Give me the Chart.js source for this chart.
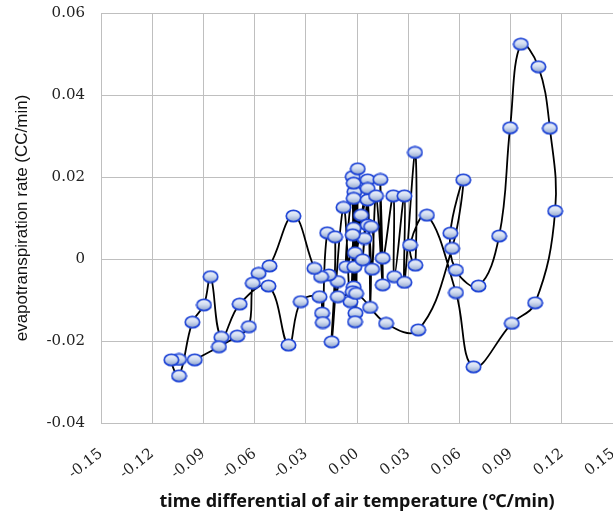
<!DOCTYPE html>
<html>
<head>
<meta charset="utf-8">
<script src="https://cdn.jsdelivr.net/npm/chart.js@4.4.0/dist/chart.umd.min.js"></script>
<style>
html,body{margin:0;padding:0;background:#fff;overflow:hidden;width:613px;height:515px;}
#wrap{position:absolute;left:0;top:0;width:622px;height:515px;}
</style>
</head>
<body>
<div id="wrap"><canvas id="c"></canvas></div>
<script>
// time differential of air temperature (°C/min), in time order
const xValues = [
 -0.1043,-0.1088,-0.1043,-0.0965,-0.0897,-0.0858,-0.0795,-0.0688,-0.0519,-0.0402,
 -0.0330,-0.0220,-0.0205,-0.0201,-0.0175,-0.0129,-0.0149,-0.0080,-0.0039,-0.0016,
 -0.0010,-0.0026,-0.0012,0.0004,-0.0020,-0.0020,-0.0026,-0.0020,-0.0064,0.0023,
 -0.0012,0.0062,-0.0016,0.0062,0.0033,0.0062,0.0076,0.0062,-0.0020,0.0043,
 -0.0026,0.0082,0.0088,0.0111,0.0150,0.0136,0.0150,0.0212,0.0218,0.0277,
 0.0277,0.0339,0.0341,0.0310,0.0409,0.0579,0.0682,0.0906,0.1043,0.1160,
 0.1129,0.1062,0.0959,0.0896,0.0832,0.0711,0.0579,0.0546,0.0622,0.0556,
 0.0358,0.0170,-0.0006,-0.0113,-0.0113,-0.0166,-0.0211,-0.0250,-0.0373,-0.0513,
 -0.0577,-0.0611,-0.0634,-0.0702,-0.0809,-0.0951
];
// evapotranspiration rate (CC/min)
const yValues = [
 -0.0245,-0.0246,-0.0285,-0.0154,-0.0112,-0.0043,-0.0191,-0.0110,-0.0066,-0.0210,
 -0.0104,-0.0092,-0.0132,-0.0155,0.0064,0.0054,-0.0202,0.0126,-0.0104,0.0164,
 -0.0132,0.0201,-0.0153,0.0220,-0.0068,0.0148,-0.0080,0.0185,-0.0019,0.0107,
 0.0015,0.0193,-0.0019,0.0172,-0.0002,0.0144,-0.0118,0.0083,0.0075,0.0050,
 0.0059,0.0079,-0.0025,0.0154,-0.0063,0.0194,0.0002,0.0154,-0.0043,0.0154,
 -0.0057,0.0260,-0.0015,0.0034,0.0107,-0.0082,-0.0263,-0.0157,-0.0107,0.0117,
 0.0319,0.0469,0.0524,0.0320,0.0056,-0.0066,-0.0027,0.0063,0.0193,0.0026,
 -0.0173,-0.0157,-0.0084,-0.0092,-0.0055,-0.0039,-0.0043,-0.0023,0.0105,-0.0017,
 -0.0035,-0.0059,-0.0165,-0.0188,-0.0214,-0.0246
];
const xTickValues = [-0.15,-0.12,-0.09,-0.06,-0.03,0.00,0.03,0.06,0.09,0.12,0.15];
const xTickLabels = ['-0.15','-0.12','-0.09','-0.06','-0.03','0.00','0.03','0.06','0.09','0.12','0.15'];
const yTickValues = [-0.04,-0.02,0,0.02,0.04,0.06];
const yTickLabels = ['-0.04','-0.02','0','0.02','0.04','0.06'];
const xTitle = 'time differential of air temperature (\u2103/min)';
const yTitle = 'evapotranspiration rate (CC/min)';

const points = xValues.map((x,i)=>({x:x,y:yValues[i]}));

function makeMarker(){
  const c=document.createElement('canvas'); c.width=17; c.height=14;
  const g=c.getContext('2d');
  const grad=g.createLinearGradient(0,1,0,13);
  grad.addColorStop(0,'#f4f7fc'); grad.addColorStop(0.45,'#d3def2'); grad.addColorStop(1,'#8ba1ca');
  g.beginPath(); g.ellipse(8.5,7,7.2,5.7,0,0,Math.PI*2);
  g.fillStyle=grad; g.fill();
  g.lineWidth=1.7; g.strokeStyle='#1f45d6'; g.stroke();
  return c;
}
const marker = makeMarker();
const gridColor = '#bfbfbf';
const tickFont = {family:'"DejaVu Serif", serif', size:15};

new Chart(document.getElementById('c'),{
  type:'scatter',
  data:{datasets:[{
    data:points, showLine:true, tension:0.4,
    borderColor:'#000', borderWidth:1.8,
    pointStyle:marker, pointRadius:7, pointHoverRadius:7
  }]},
  options:{
    responsive:true, maintainAspectRatio:false, animation:false,
    layout:{padding:{top:13,right:7,left:0,bottom:0}},
    plugins:{legend:{display:false},tooltip:{enabled:false}},
    scales:{
      x:{
        type:'linear', min:-0.15, max:0.15,
        afterBuildTicks:(s)=>{s.ticks=xTickValues.map(v=>({value:v}));},
        afterFit:(s)=>{s.height=92; s.paddingLeft=0; s.paddingRight=0;},
        grid:{color:gridColor, lineWidth:1, drawTicks:false},
        border:{color:gridColor},
        ticks:{autoSkip:false, minRotation:38, maxRotation:38, padding:22, color:'#222', font:tickFont,
          callback:(v,i)=>xTickLabels[i]},
        title:{display:true, text:xTitle, color:'#111', font:{family:'"Noto Sans", sans-serif', size:18, weight:'bold'}, padding:{top:0,bottom:2}}
      },
      y:{
        type:'linear', min:-0.04, max:0.06,
        afterBuildTicks:(s)=>{s.ticks=yTickValues.map(v=>({value:v}));},
        afterFit:(s)=>{s.width=101; s.paddingTop=0; s.paddingBottom=0;},
        grid:{color:gridColor, lineWidth:1, drawTicks:false},
        border:{color:gridColor},
        ticks:{autoSkip:false, padding:16, color:'#222', font:tickFont,
          callback:(v,i)=>yTickLabels[i]},
        title:{display:true, text:yTitle, color:'#111', font:{family:'"Liberation Sans", Arial, sans-serif', size:17}, padding:{top:12,bottom:0}}
      }
    }
  }
});
</script>
</body>
</html>
